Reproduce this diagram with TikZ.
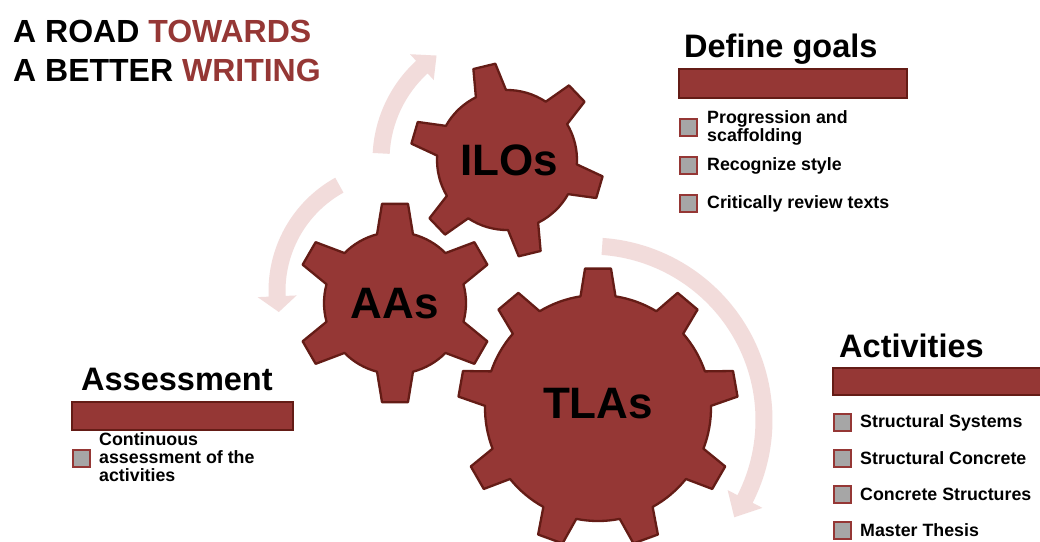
\documentclass[tikz,border=0pt]{standalone}
\usepackage{fontspec}
\setmainfont{Liberation Sans}
\definecolor{gearred}{RGB}{149,55,53}
\definecolor{gearline}{RGB}{100,28,22}
\definecolor{arrowpink}{RGB}{242,220,219}
\definecolor{bulletgray}{RGB}{166,166,166}

\newcommand{\drawgear}[8]{% cx, cy, n, Rout, Rin, tip half width, base half width, rotation
  \pgfmathsetmacro{\gst}{360/#3}
  \pgfmathsetmacro{\gat}{asin(#6/#4)}
  \pgfmathsetmacro{\gab}{asin(#7/#5)}
  \pgfmathsetmacro{\gstart}{#8-\gab}
  \filldraw[gearshape,shift={(#1,#2)}] (\gstart:#5)
    \foreach \k in {1,...,#3}{
      -- ({#8+(\k-1)*\gst-\gat}:#4) -- ({#8+(\k-1)*\gst+\gat}:#4)
      -- ({#8+(\k-1)*\gst+\gab}:#5)
      arc[start angle={#8+(\k-1)*\gst+\gab}, end angle={#8+\k*\gst-\gab}, radius=#5]
    } -- cycle;
}

\newcommand{\pinkarrow}[7]{% cx, cy, r, start angle, head base angle, tip angle, head half width
  \pgfmathsetmacro{\rout}{#3+8.5}
  \pgfmathsetmacro{\rin}{#3-8.5}
  \pgfmathsetmacro{\rhout}{#3+#7}
  \pgfmathsetmacro{\rhin}{#3-#7}
  \fill[arrowpink, shift={(#1,#2)}] (#4:\rout)
    arc[start angle=#4, end angle=#5, radius=\rout]
    -- (#5:\rhout) -- (#6:#3) -- (#5:\rhin) -- (#5:\rin)
    arc[start angle=#5, end angle=#4, radius=\rin] -- cycle;
}

\begin{document}
\begin{tikzpicture}[x=1pt,y=1pt,
  gearshape/.style={fill=gearred, draw=gearline, line width=2.3pt, line join=round},
  geartext/.style={font=\fontsize{44}{50}\selectfont\bfseries, anchor=base, inner sep=0},
  title/.style={font=\fontsize{32}{38}\selectfont\bfseries, anchor=base west, inner sep=0},
  header/.style={font=\fontsize{32.5}{38}\selectfont\bfseries, anchor=base west, inner sep=0},
  itemtext/.style={font=\fontsize{17.8}{17}\selectfont\bfseries, anchor=base west, inner sep=0},
  bulletbox/.style={rectangle, draw=gearred, fill=bulletgray, line width=2pt, minimum size=17pt, inner sep=0},
  barbox/.style={fill=gearred, draw=gearline, line width=2pt}
]
\useasboundingbox (0,0) rectangle (1040,-541);
\fill[white] (0,0) rectangle (1040,-541);

% circular arrows
\pinkarrow{507}{-160}{126}{177}{132.5}{124}{17.5}
\pinkarrow{398}{-291}{121}{119}{182.5}{190}{19.5}
\pinkarrow{590}{-420}{174}{86}{-27}{-34}{19.5}

% gears
\drawgear{598}{-408}{9}{140}{113}{13}{17.5}{90}
\drawgear{395}{-303}{6}{100}{71}{13}{18}{90}
\drawgear{507}{-160}{6}{97}{70}{11.3}{15.5}{103.6}

\node[geartext] (ilos) at (509,-175) {ILOs};
\node[geartext] (aas) at (395,-318) {AAs};
\node[geartext] (tlas) at (598,-418) {TLAs};

% title
\node[title] (t1) at (13,-42) {A ROAD \textcolor{gearred}{TOWARDS}};
\node[title] (t2) at (13,-81) {A BETTER \textcolor{gearred}{WRITING}};

% Define goals
\node[header] (dg) at (684,-57) {Define goals};
\draw[barbox] (679,-69) rectangle (907,-98);
\node[bulletbox] (dgb1) at (688.5,-127) {};
\node[itemtext] (dgt1a) at (707,-123) {Progression and};
\node[itemtext] (dgt1b) at (707,-141) {scaffolding};
\node[bulletbox] (dgb2) at (688.5,-165) {};
\node[itemtext] (dgt2) at (707,-170) {Recognize style};
\node[bulletbox] (dgb3) at (688.5,-203) {};
\node[itemtext] (dgt3) at (707,-208) {Critically review texts};

% Assessment
\node[header] (as) at (81,-390) {Assessment};
\draw[barbox] (72,-402) rectangle (293,-430);
\node[bulletbox] (asb1) at (81.5,-458) {};
\node[itemtext] (ast1a) at (99,-445) {Continuous};
\node[itemtext] (ast1b) at (99,-463) {assessment of the};
\node[itemtext] (ast1c) at (99,-481) {activities};

% Activities
\node[header] (ac) at (839,-357) {Activities};
\draw[barbox] (833,-368) rectangle (1046,-395);
\node[bulletbox] (acb1) at (842.5,-422) {};
\node[itemtext] (act1) at (860,-427) {Structural Systems};
\node[bulletbox] (acb2) at (842.5,-458) {};
\node[itemtext] (act2) at (860,-464) {Structural Concrete};
\node[bulletbox] (acb3) at (842.5,-494) {};
\node[itemtext] (act3) at (860,-500) {Concrete Structures};
\node[bulletbox] (acb4) at (842.5,-530) {};
\node[itemtext] (act4) at (860,-536) {Master Thesis};
\end{tikzpicture}
\end{document}
